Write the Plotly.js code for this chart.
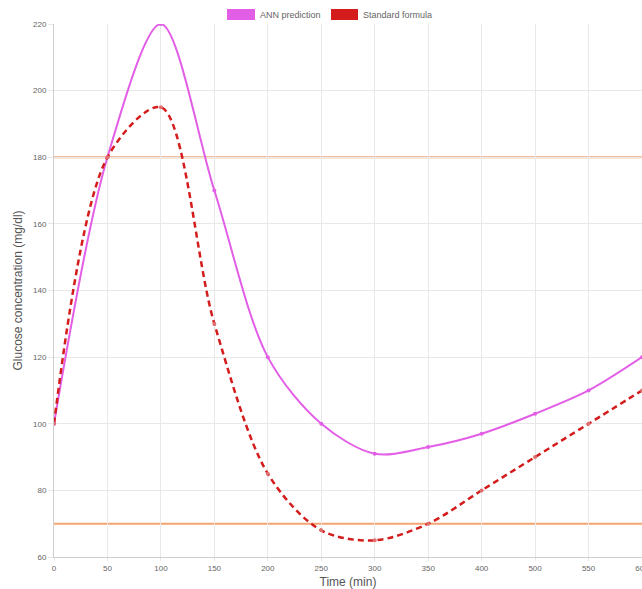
<!DOCTYPE html>
<html><head><meta charset="utf-8">
<script src="https://cdn.plot.ly/plotly-3.0.1.min.js"></script>
<style>html,body{margin:0;padding:0;background:#fff;}#chart{width:642px;height:589px;}</style>
</head><body><div id="chart"></div>
<script>
var timeLabels = ["0","50","100","150","200","250","300","350","400","500","550","600"];
var annPrediction = [100,180,220,170,120,100,91,93,97,103,110,120];
var standardFormula = [100,180,195,130,85,68,65,70,80,90,100,110];
var lowLimit = 70, highLimit = 180;

var L=54, R=642, T=24, B=557;
function px(x){return (x-L)/(R-L);}
function py(y){return (B-y)/(B-T);}

var traces = [
 {x: timeLabels, y: annPrediction, type:'scatter', mode:'lines+markers', name:'ANN prediction',
  line:{color:'#e35ee6', width:2, shape:'spline', smoothing:0.9}, marker:{size:4, color:'#e35ee6'}, cliponaxis:true},
 {x: timeLabels, y: standardFormula, type:'scatter', mode:'lines+markers', name:'Standard formula',
  line:{color:'#d41c1c', width:2.5, dash:'6px,4px', shape:'spline', smoothing:0.9}, marker:{size:4, color:'#e07070'}, cliponaxis:true}
];

var font = {family:'"Liberation Sans", Arial, sans-serif', color:'#666'};
var layout = {
  width:642, height:589,
  margin:{l:L, r:642-R, t:T, b:589-B},
  paper_bgcolor:'#fff', plot_bgcolor:'#fff',
  showlegend:false,
  font: font,
  xaxis:{type:'category', range:[0,11], showgrid:true, gridcolor:'#e8e8e8', gridwidth:1,
    showline:true, linecolor:'#cfcfcf', ticks:'outside', ticklen:3, tickcolor:'#e8e8e8',
    tickfont:{size:8, color:'#666', family:font.family}, zeroline:false,
    title:{text:'Time (min)', font:{size:12, color:'#555', family:font.family}, standoff:12}},
  yaxis:{range:[60,220], dtick:20, tick0:60, showgrid:true, gridcolor:'#e8e8e8', gridwidth:1,
    showline:true, linecolor:'#cfcfcf', ticks:'outside', ticklen:5, tickcolor:'#e8e8e8',
    tickfont:{size:8, color:'#666', family:font.family}, zeroline:false,
    title:{text:'Glucose concentration (mg/dl)', font:{size:12, color:'#555', family:font.family}, standoff:7}},
  shapes:[
    {type:'line', xref:'paper', yref:'y', x0:0, x1:1, y0:highLimit, y1:highLimit, line:{color:'#f5a572', width:2}, layer:'below'},
    {type:'line', xref:'paper', yref:'y', x0:0, x1:1, y0:lowLimit, y1:lowLimit, line:{color:'#f5a572', width:2}, layer:'below'},
    {type:'rect', xref:'paper', yref:'paper', x0:px(227), x1:px(255), y0:py(20), y1:py(9), fillcolor:'#e35ee6', line:{width:0}},
    {type:'rect', xref:'paper', yref:'paper', x0:px(331), x1:px(358), y0:py(20), y1:py(9), fillcolor:'#d41c1c', line:{width:0}}
  ],
  annotations:[
    {xref:'paper', yref:'paper', x:px(258), y:py(14.5), xanchor:'left', yanchor:'middle', text:'ANN prediction', showarrow:false, font:{size:9, color:'#666', family:font.family}},
    {xref:'paper', yref:'paper', x:px(361), y:py(14.5), xanchor:'left', yanchor:'middle', text:'Standard formula', showarrow:false, font:{size:9, color:'#666', family:font.family}}
  ]
};
Plotly.newPlot('chart', traces, layout, {displayModeBar:false, staticPlot:true});
</script></body></html>
